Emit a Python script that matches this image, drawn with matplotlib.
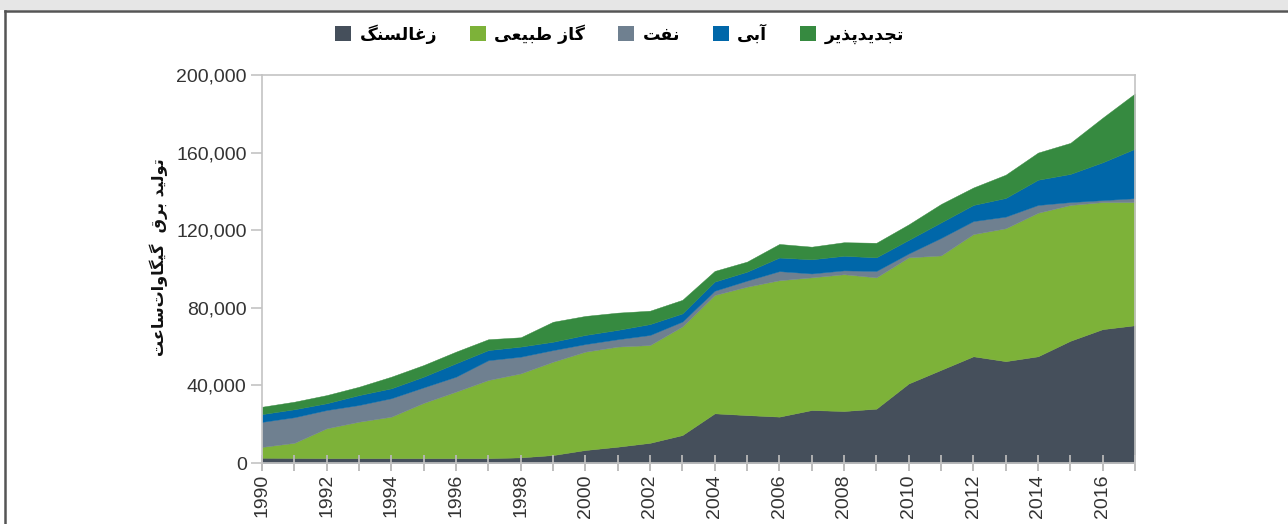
import matplotlib
matplotlib.use("Agg")
import matplotlib.pyplot as plt
from matplotlib.patches import Patch, Rectangle
from matplotlib.lines import Line2D
from matplotlib.ticker import FuncFormatter

years = list(range(1990, 2018))

# GWh
coal = [2700, 2600, 2500, 2500, 2500, 2500, 2500, 2500, 2900, 4100, 6700, 8400, 10400, 14400,
        25600, 24700, 23900, 27300, 26800, 28000, 41000, 48000, 55000, 52500, 55000, 63000, 69000, 71000]
gas = [5600, 7800, 15400, 18800, 21400, 28500, 34300, 40300, 43300, 48100, 50700, 51600, 50400, 56000,
       61000, 66200, 70300, 68400, 70500, 67700, 65000, 59000, 63000, 68500, 74000, 70000, 65500, 63500]
oil = [12900, 13200, 9400, 8600, 9500, 8000, 7700, 10200, 8600, 6000, 3900, 3800, 5200, 2500,
       2200, 3100, 4700, 2000, 2000, 3300, 2000, 9000, 6700, 6000, 4000, 1500, 1000, 2000]
hydro = [4000, 4100, 3500, 5100, 5100, 5500, 6900, 5200, 5200, 4300, 4700, 4800, 5600, 4200,
         4700, 4600, 7000, 7300, 7500, 7000, 7000, 8000, 8300, 9600, 13000, 14500, 19500, 25500]
renew = [3800, 3900, 4200, 4300, 6000, 6000, 6000, 5600, 4800, 10300, 9800, 8900, 6900, 7000,
         5500, 5200, 7000, 6500, 7000, 7500, 8000, 9500, 9000, 12000, 14000, 16000, 23000, 28500]

labels = ["زغالسنگ", "گاز طبیعی", "نفت", "آبی", "تجدیدپذیر"]
colors = ["#454f5b", "#7db239", "#6f8090", "#0067a9", "#368a40"]
ylabel = "تولید برق  گیگاوات\u200cساعت"
yticks = [0, 40000, 80000, 120000, 160000, 200000]

# no text shaping in matplotlib: use arabic presentation forms by hand
FORMS = {
    "ا": ("\uFE8D", "\uFE8E", None, None),
    "آ": ("\uFE81", "\uFE82", None, None),
    "ب": ("\uFE8F", "\uFE90", "\uFE91", "\uFE92"),
    "پ": ("\uFB56", "\uFB57", "\uFB58", "\uFB59"),
    "ت": ("\uFE95", "\uFE96", "\uFE97", "\uFE98"),
    "ج": ("\uFE9D", "\uFE9E", "\uFE9F", "\uFEA0"),
    "د": ("\uFEA9", "\uFEAA", None, None),
    "ذ": ("\uFEAB", "\uFEAC", None, None),
    "ر": ("\uFEAD", "\uFEAE", None, None),
    "ز": ("\uFEAF", "\uFEB0", None, None),
    "س": ("\uFEB1", "\uFEB2", "\uFEB3", "\uFEB4"),
    "ط": ("\uFEC1", "\uFEC2", "\uFEC3", "\uFEC4"),
    "ع": ("\uFEC9", "\uFECA", "\uFECB", "\uFECC"),
    "غ": ("\uFECD", "\uFECE", "\uFECF", "\uFED0"),
    "ف": ("\uFED1", "\uFED2", "\uFED3", "\uFED4"),
    "ق": ("\uFED5", "\uFED6", "\uFED7", "\uFED8"),
    "گ": ("\uFB92", "\uFB93", "\uFB94", "\uFB95"),
    "ل": ("\uFEDD", "\uFEDE", "\uFEDF", "\uFEE0"),
    "ن": ("\uFEE5", "\uFEE6", "\uFEE7", "\uFEE8"),
    "و": ("\uFEED", "\uFEEE", None, None),
    "ی": ("\uFBFC", "\uFBFD", "\uFBFE", "\uFBFF"),
}


def shape(s):
    out = []
    for i, c in enumerate(s):
        if c not in FORMS:
            out.append(c)
            continue
        iso, fin, ini, med = FORMS[c]
        prev = s[i - 1] if i > 0 else None
        nxt = s[i + 1] if i + 1 < len(s) else None
        jp = prev in FORMS and FORMS[prev][2] is not None
        jn = nxt in FORMS and ini is not None
        if jp and jn:
            out.append(med)
        elif jp:
            out.append(fin)
        elif jn:
            out.append(ini)
        else:
            out.append(iso)
    return "".join(out).replace("\u200c", "")[::-1]


fig = plt.figure(figsize=(12.88, 5.24), dpi=100, facecolor="white")
ax = fig.add_axes([0.2034, 0.1164, 0.6778, 0.7405])

ax.stackplot(years, coal, gas, oil, hydro, renew, colors=colors,
             linewidth=0.3, edgecolor="face")

ax.set_xlim(1990, 2017)
ax.set_ylim(0, 200000)
ax.set_yticks(yticks)
ax.yaxis.set_major_formatter(FuncFormatter(lambda v, p: f"{int(v):,}"))
ax.set_xticks(years)
ax.set_xticklabels([str(y) if y % 2 == 0 else "" for y in years], rotation=90)

for s in ax.spines.values():
    s.set_color("#c4c4c4")
    s.set_linewidth(1.2)
ax.tick_params(axis="x", direction="inout", length=12, width=1.3, color="#b8b8b8",
               labelsize=14, labelcolor="#333333", pad=2)
ax.tick_params(axis="y", direction="out", length=8, width=1.2, color="#c4c4c4",
               labelsize=14, labelcolor="#333333", pad=3)
for t in ax.get_xticklabels() + ax.get_yticklabels():
    t.set_fontfamily("Liberation Sans")

ax.text(-0.118, 0.53, shape(ylabel), transform=ax.transAxes, rotation=90,
        ha="center", va="center", fontsize=11.5, fontweight="bold",
        family="DejaVu Sans", color="#111111")

handles = [Patch(facecolor=c, edgecolor="none") for c in colors]
fig.legend(handles, [shape(l) for l in labels], ncol=5, loc="center",
           bbox_to_anchor=(0.481, 0.935), frameon=False, handlelength=0.9,
           handleheight=0.9, handletextpad=0.5, columnspacing=1.9,
           prop={"family": "DejaVu Sans", "weight": "bold", "size": 12.5})

# page frame
fig.add_artist(Rectangle((0, 1 - 10 / 524), 1, 10 / 524, transform=fig.transFigure,
                         facecolor="#e6e6e6", edgecolor="none"))
fig.add_artist(Line2D([5 / 1288, 1], [1 - 11 / 524, 1 - 11 / 524], transform=fig.transFigure,
                      color="#555555", linewidth=1.8))
fig.add_artist(Line2D([5 / 1288, 5 / 1288], [0, 1 - 11 / 524], transform=fig.transFigure,
                      color="#555555", linewidth=1.8))

fig.savefig("out.png", dpi=100)
